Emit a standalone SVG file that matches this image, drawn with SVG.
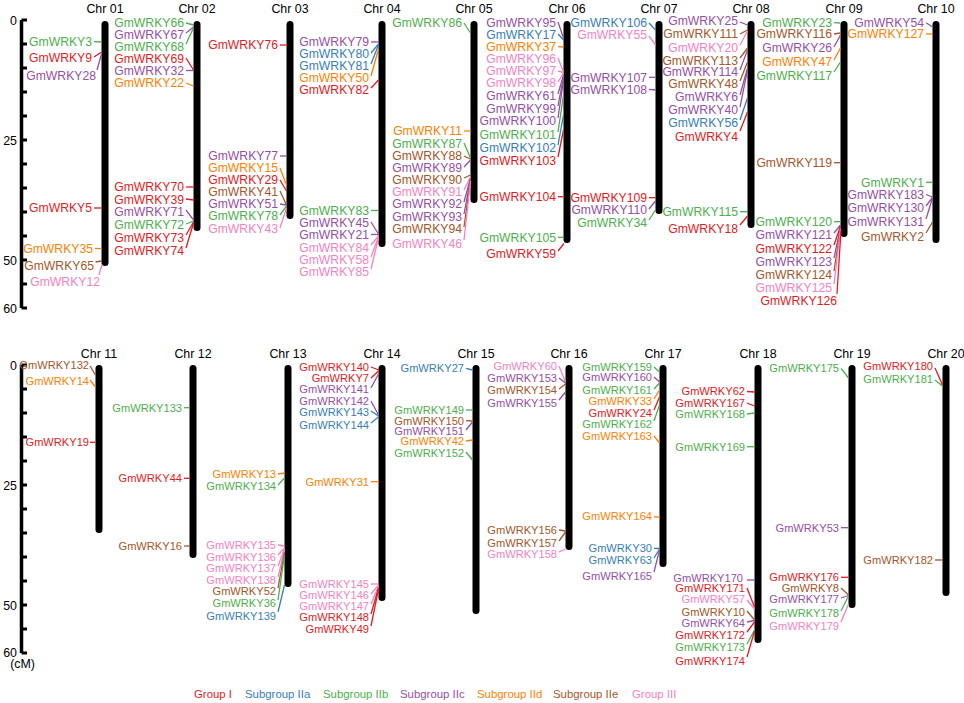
<svg xmlns="http://www.w3.org/2000/svg" width="964" height="703" viewBox="0 0 964 703">
<style>
text{font-family:"Liberation Sans",Arial,sans-serif}
.t{font-size:12.2px;text-anchor:end}
g.low .t{font-size:11.1px}
.ct{font-size:12.4px;text-anchor:middle;fill:#000}
.ax{font-size:12.4px;text-anchor:end;fill:#000}
.lg{font-size:11.4px}
.bar{stroke:#000;stroke-width:7;stroke-linecap:round}
.axl{stroke:#000;stroke-width:3.5;fill:none}
.tk{stroke:#000;stroke-width:3}
text.r{fill:#e41a1c}text.b{fill:#377eb8}text.g{fill:#4daf4a}text.p{fill:#984ea3}text.o{fill:#ff7f00}text.n{fill:#a65628}text.k{fill:#f781bf}
#connectors line{stroke-width:1.3;fill:none}
line.r{stroke:#e41a1c}line.b{stroke:#377eb8}line.g{stroke:#4daf4a}line.p{stroke:#984ea3}line.o{stroke:#ff7f00}line.n{stroke:#a65628}line.k{stroke:#f781bf}
</style>
<rect width="964" height="703" fill="#fff"/>
<g id="scale-top">
<line class="axl" x1="21.5" y1="20" x2="21.5" y2="308"/>
<path class="tk" d="M21.5 20H27M21.5 44H27M21.5 68H27M21.5 92H27M21.5 116H27M21.5 140H27M21.5 164H27M21.5 188H27M21.5 212H27M21.5 236H27M21.5 260H27M21.5 284H27M21.5 308H27"/>
<text class="ax" x="17" y="25">0</text><text class="ax" x="17" y="145">25</text><text class="ax" x="17" y="265">50</text><text class="ax" x="17" y="313">60</text>
</g>
<g id="scale-bottom">
<line class="axl" x1="21.5" y1="365" x2="21.5" y2="653"/>
<path class="tk" d="M21.5 365H27M21.5 389H27M21.5 413H27M21.5 437H27M21.5 461H27M21.5 485H27M21.5 509H27M21.5 533H27M21.5 557H27M21.5 581H27M21.5 605H27M21.5 629H27M21.5 653H27"/>
<text class="ax" x="17" y="370">0</text><text class="ax" x="17" y="490">25</text><text class="ax" x="17" y="610">50</text><text class="ax" x="17" y="657">60</text>
<text class="ax" x="35" y="668">(cM)</text>
</g>
<g id="chr01"><line class="bar" x1="105" y1="24.5" x2="105" y2="262.5"/><text class="ct" x="105" y="12.5">Chr 01</text>
<text class="t g" x="92" y="46.1">GmWRKY3</text><text class="t r" x="92" y="61.7">GmWRKY9</text><text class="t p" x="96" y="80.4">GmWRKY28</text><text class="t r" x="92" y="212.4">GmWRKY5</text><text class="t o" x="93" y="253.1">GmWRKY35</text><text class="t n" x="94" y="270.1">GmWRKY65</text><text class="t k" x="100" y="286.1">GmWRKY12</text></g>
<g id="chr02"><line class="bar" x1="197" y1="24.5" x2="197" y2="227.5"/><text class="ct" x="197" y="12.5">Chr 02</text>
<text class="t g" x="184" y="27.1">GmWRKY66</text><text class="t p" x="184" y="38.9">GmWRKY67</text><text class="t g" x="184" y="50.9">GmWRKY68</text><text class="t r" x="184" y="62.9">GmWRKY69</text><text class="t p" x="184" y="74.9">GmWRKY32</text><text class="t o" x="184" y="86.9">GmWRKY22</text>
<text class="t r" x="184" y="191.4">GmWRKY70</text><text class="t r" x="184" y="203.9">GmWRKY39</text><text class="t p" x="184" y="216.4">GmWRKY71</text><text class="t g" x="184" y="229.4">GmWRKY72</text><text class="t r" x="184" y="242.4">GmWRKY73</text><text class="t r" x="184" y="255.4">GmWRKY74</text></g>
<g id="chr03"><line class="bar" x1="290" y1="24.5" x2="290" y2="215.5"/><text class="ct" x="290" y="12.5">Chr 03</text>
<text class="t r" x="278" y="49.4">GmWRKY76</text><text class="t p" x="278" y="160.4">GmWRKY77</text><text class="t o" x="278" y="172.4">GmWRKY15</text><text class="t r" x="278" y="184.4">GmWRKY29</text><text class="t n" x="278" y="196.4">GmWRKY41</text><text class="t p" x="278" y="208.4">GmWRKY51</text><text class="t g" x="278" y="220.4">GmWRKY78</text><text class="t k" x="278" y="233.4">GmWRKY43</text></g>
<g id="chr04"><line class="bar" x1="382" y1="24.5" x2="382" y2="243.5"/><text class="ct" x="382" y="12.5">Chr 04</text>
<text class="t p" x="369" y="46.4">GmWRKY79</text><text class="t b" x="369" y="58.4">GmWRKY80</text><text class="t b" x="369" y="70.4">GmWRKY81</text><text class="t o" x="369" y="82.4">GmWRKY50</text><text class="t r" x="369" y="94.4">GmWRKY82</text>
<text class="t g" x="369" y="214.9">GmWRKY83</text><text class="t p" x="369" y="227.2">GmWRKY45</text><text class="t p" x="369" y="239.4">GmWRKY21</text><text class="t k" x="369" y="251.7">GmWRKY84</text><text class="t k" x="369" y="264">GmWRKY58</text><text class="t k" x="369" y="276.4">GmWRKY85</text></g>
<g id="chr05"><line class="bar" x1="474" y1="24.5" x2="474" y2="199.5"/><text class="ct" x="474" y="12.5">Chr 05</text>
<text class="t g" x="462" y="27.4">GmWRKY86</text><text class="t o" x="462" y="135.4">GmWRKY11</text><text class="t g" x="462" y="147.9">GmWRKY87</text><text class="t n" x="462" y="160.4">GmWRKY88</text><text class="t p" x="462" y="172.4">GmWRKY89</text><text class="t n" x="462" y="184.4">GmWRKY90</text><text class="t k" x="462" y="196.4">GmWRKY91</text><text class="t p" x="462" y="208.4">GmWRKY92</text><text class="t p" x="462" y="220.9">GmWRKY93</text><text class="t n" x="462" y="233.4">GmWRKY94</text><text class="t k" x="462" y="248.4">GmWRKY46</text></g>
<g id="chr06"><line class="bar" x1="567" y1="24.5" x2="567" y2="239.5"/><text class="ct" x="567" y="12.5">Chr 06</text>
<text class="t p" x="556" y="27.1">GmWRKY95</text><text class="t b" x="556" y="38.9">GmWRKY17</text><text class="t o" x="556" y="51.1">GmWRKY37</text><text class="t k" x="556" y="63.4">GmWRKY96</text><text class="t k" x="556" y="75.4">GmWRKY97</text><text class="t k" x="556" y="87.4">GmWRKY98</text><text class="t p" x="556" y="100.4">GmWRKY61</text><text class="t p" x="556" y="112.9">GmWRKY99</text><text class="t p" x="556" y="125.4">GmWRKY100</text><text class="t g" x="556" y="138.9">GmWRKY101</text><text class="t b" x="556" y="151.7">GmWRKY102</text><text class="t r" x="556" y="165.4">GmWRKY103</text><text class="t r" x="556" y="201.1">GmWRKY104</text><text class="t g" x="556" y="241.7">GmWRKY105</text><text class="t r" x="556" y="258.4">GmWRKY59</text></g>
<g id="chr07"><line class="bar" x1="659" y1="24.5" x2="659" y2="210.5"/><text class="ct" x="659" y="12.5">Chr 07</text>
<text class="t b" x="647" y="27.1">GmWRKY106</text><text class="t k" x="647" y="38.9">GmWRKY55</text><text class="t p" x="647" y="81.7">GmWRKY107</text><text class="t p" x="647" y="93.7">GmWRKY108</text><text class="t r" x="647" y="202.1">GmWRKY109</text><text class="t p" x="647" y="214.4">GmWRKY110</text><text class="t g" x="647" y="227.1">GmWRKY34</text></g>
<g id="chr08"><line class="bar" x1="751" y1="24.5" x2="751" y2="224.5"/><text class="ct" x="751" y="12.5">Chr 08</text>
<text class="t p" x="738" y="25.4">GmWRKY25</text><text class="t n" x="738" y="38.4">GmWRKY111</text><text class="t k" x="738" y="51.9">GmWRKY20</text><text class="t n" x="738" y="64.9">GmWRKY113</text><text class="t p" x="738" y="76.4">GmWRKY114</text><text class="t n" x="738" y="88.4">GmWRKY48</text><text class="t p" x="738" y="101.4">GmWRKY6</text><text class="t p" x="738" y="114.4">GmWRKY40</text><text class="t b" x="738" y="127.4">GmWRKY56</text><text class="t r" x="738" y="141.4">GmWRKY4</text><text class="t g" x="738" y="216.1">GmWRKY115</text><text class="t r" x="738" y="233.4">GmWRKY18</text></g>
<g id="chr09"><line class="bar" x1="844" y1="24.5" x2="844" y2="233.5"/><text class="ct" x="844" y="12.5">Chr 09</text>
<text class="t g" x="832" y="27.1">GmWRKY23</text><text class="t n" x="832" y="38.4">GmWRKY116</text><text class="t p" x="832" y="52.4">GmWRKY26</text><text class="t o" x="832" y="65.9">GmWRKY47</text><text class="t g" x="832" y="79.9">GmWRKY117</text><text class="t n" x="832" y="167.1">GmWRKY119</text><text class="t g" x="832" y="226.1">GmWRKY120</text><text class="t p" x="832" y="239.4">GmWRKY121</text><text class="t r" x="832" y="252.7">GmWRKY122</text><text class="t p" x="832" y="265.9">GmWRKY123</text><text class="t n" x="832" y="279.1">GmWRKY124</text><text class="t k" x="832" y="292.1">GmWRKY125</text><text class="t r" x="837" y="305.1">GmWRKY126</text></g>
<g id="chr10"><line class="bar" x1="936" y1="24.5" x2="936" y2="239.5"/><text class="ct" x="936" y="12.5">Chr 10</text>
<text class="t p" x="924" y="27.1">GmWRKY54</text><text class="t o" x="924" y="38.4">GmWRKY127</text><text class="t g" x="924" y="186.7">GmWRKY1</text><text class="t p" x="924" y="198.9">GmWRKY183</text><text class="t p" x="924" y="212.4">GmWRKY130</text><text class="t p" x="924" y="225.9">GmWRKY131</text><text class="t n" x="924" y="241.4">GmWRKY2</text></g>
<g id="chr11" class="low"><line class="bar" x1="99" y1="368.5" x2="99" y2="529.5"/><text class="ct" x="99" y="357.5">Chr 11</text>
<text class="t n" x="89" y="368.5">GmWRKY132</text><text class="t o" x="89" y="385">GmWRKY14</text><text class="t r" x="89" y="446.3">GmWRKY19</text></g>
<g id="chr12" class="low"><line class="bar" x1="193" y1="368.5" x2="193" y2="554.5"/><text class="ct" x="193" y="357.5">Chr 12</text>
<text class="t g" x="182" y="411.7">GmWRKY133</text><text class="t r" x="182" y="482.3">GmWRKY44</text><text class="t n" x="182" y="550">GmWRKY16</text></g>
<g id="chr13" class="low"><line class="bar" x1="288" y1="368.5" x2="288" y2="583.5"/><text class="ct" x="288" y="357.5">Chr 13</text>
<text class="t o" x="276" y="478">GmWRKY13</text><text class="t g" x="276" y="489.7">GmWRKY134</text><text class="t k" x="276" y="549">GmWRKY135</text><text class="t k" x="276" y="560.7">GmWRKY136</text><text class="t k" x="276" y="572.3">GmWRKY137</text><text class="t k" x="276" y="583.5">GmWRKY138</text><text class="t n" x="276" y="595">GmWRKY52</text><text class="t g" x="276" y="607.3">GmWRKY36</text><text class="t b" x="276" y="620">GmWRKY139</text></g>
<g id="chr14" class="low"><line class="bar" x1="382" y1="368.5" x2="382" y2="597.5"/><text class="ct" x="382" y="357.5">Chr 14</text>
<text class="t r" x="369" y="371">GmWRKY140</text><text class="t r" x="369" y="382.3">GmWRKY7</text><text class="t p" x="369" y="393.3">GmWRKY141</text><text class="t p" x="369" y="404.7">GmWRKY142</text><text class="t b" x="369" y="415.5">GmWRKY143</text><text class="t b" x="369" y="428.5">GmWRKY144</text><text class="t o" x="369" y="485.7">GmWRKY31</text><text class="t k" x="369" y="588">GmWRKY145</text><text class="t k" x="369" y="599">GmWRKY146</text><text class="t k" x="369" y="610">GmWRKY147</text><text class="t r" x="369" y="621.3">GmWRKY148</text><text class="t r" x="369" y="633.3">GmWRKY49</text></g>
<g id="chr15" class="low"><line class="bar" x1="476" y1="368.5" x2="476" y2="610.5"/><text class="ct" x="476" y="357.5">Chr 15</text>
<text class="t b" x="464" y="372.3">GmWRKY27</text><text class="t g" x="464" y="414">GmWRKY149</text><text class="t n" x="464" y="424.7">GmWRKY150</text><text class="t p" x="464" y="435">GmWRKY151</text><text class="t o" x="464" y="445">GmWRKY42</text><text class="t g" x="464" y="457.3">GmWRKY152</text></g>
<g id="chr16" class="low"><line class="bar" x1="569" y1="368.5" x2="569" y2="546.5"/><text class="ct" x="569" y="357.5">Chr 16</text>
<text class="t k" x="557" y="369.5">GmWRKY60</text><text class="t p" x="557" y="382">GmWRKY153</text><text class="t n" x="557" y="393.5">GmWRKY154</text><text class="t p" x="557" y="406.5">GmWRKY155</text><text class="t n" x="557" y="534">GmWRKY156</text><text class="t n" x="557" y="546.5">GmWRKY157</text><text class="t k" x="557" y="558.3">GmWRKY158</text></g>
<g id="chr17" class="low"><line class="bar" x1="663" y1="368.5" x2="663" y2="563.5"/><text class="ct" x="663" y="357.5">Chr 17</text>
<text class="t g" x="652" y="370.5">GmWRKY159</text><text class="t p" x="652" y="381">GmWRKY160</text><text class="t g" x="652" y="393.5">GmWRKY161</text><text class="t o" x="652" y="404.7">GmWRKY33</text><text class="t r" x="652" y="416.7">GmWRKY24</text><text class="t g" x="652" y="427.5">GmWRKY162</text><text class="t o" x="652" y="440">GmWRKY163</text><text class="t o" x="652" y="520">GmWRKY164</text><text class="t b" x="652" y="552.3">GmWRKY30</text><text class="t b" x="652" y="564">GmWRKY63</text><text class="t p" x="652" y="579.7">GmWRKY165</text></g>
<g id="chr18" class="low"><line class="bar" x1="758" y1="368.5" x2="758" y2="639.5"/><text class="ct" x="758" y="357.5">Chr 18</text>
<text class="t r" x="745" y="395">GmWRKY62</text><text class="t r" x="745" y="407.3">GmWRKY167</text><text class="t g" x="745" y="418.3">GmWRKY168</text><text class="t g" x="745" y="450.7">GmWRKY169</text><text class="t p" x="743" y="581.7">GmWRKY170</text><text class="t r" x="745" y="592.3">GmWRKY171</text><text class="t k" x="745" y="603.3">GmWRKY57</text><text class="t n" x="745" y="615.7">GmWRKY10</text><text class="t p" x="745" y="626.7">GmWRKY64</text><text class="t r" x="745" y="639">GmWRKY172</text><text class="t g" x="745" y="650.7">GmWRKY173</text><text class="t r" x="745" y="664.7">GmWRKY174</text></g>
<g id="chr19" class="low"><line class="bar" x1="852" y1="368.5" x2="852" y2="604.5"/><text class="ct" x="852" y="357.5">Chr 19</text>
<text class="t g" x="839" y="372.3">GmWRKY175</text><text class="t p" x="839" y="531.7">GmWRKY53</text><text class="t r" x="839" y="581.3">GmWRKY176</text><text class="t n" x="839" y="591.7">GmWRKY8</text><text class="t p" x="839" y="603.3">GmWRKY177</text><text class="t g" x="839" y="616.7">GmWRKY178</text><text class="t k" x="839" y="630">GmWRKY179</text></g>
<g id="chr20" class="low"><line class="bar" x1="946" y1="368.5" x2="946" y2="592.5"/><text class="ct" x="946" y="357.5">Chr 20</text>
<text class="t r" x="933" y="370">GmWRKY180</text><text class="t g" x="933" y="383">GmWRKY181</text><text class="t n" x="933" y="564">GmWRKY182</text></g>
<g id="connectors">
<line class="g" x1="94" y1="41.7" x2="101.5" y2="42"/><line class="r" x1="94" y1="57" x2="101.5" y2="52"/><line class="p" x1="97" y1="70" x2="101.5" y2="54"/><line class="r" x1="94" y1="208" x2="101.5" y2="208"/><line class="o" x1="95" y1="248.5" x2="101.5" y2="248.5"/><line class="n" x1="95.5" y1="262" x2="101.5" y2="261"/><line class="k" x1="99" y1="275" x2="102" y2="264.5"/>
<line class="g" x1="186" y1="23" x2="193.5" y2="25"/><line class="p" x1="186" y1="33" x2="193.5" y2="27"/><line class="g" x1="186" y1="44" x2="193.5" y2="28"/><line class="r" x1="186" y1="58" x2="193.5" y2="70"/><line class="p" x1="186" y1="70.5" x2="193.5" y2="70.5"/><line class="o" x1="186" y1="83" x2="193.5" y2="86"/>
<line class="r" x1="186" y1="187" x2="193.5" y2="187"/><line class="r" x1="186" y1="199" x2="193.5" y2="200"/><line class="p" x1="186" y1="210" x2="193.5" y2="220"/><line class="g" x1="186" y1="224" x2="193.5" y2="221"/><line class="r" x1="186" y1="235" x2="193.5" y2="222"/><line class="r" x1="186" y1="248" x2="193.5" y2="223"/>
<line class="r" x1="280" y1="45" x2="286.5" y2="45"/><line class="p" x1="280" y1="156" x2="286.5" y2="156"/><line class="o" x1="280" y1="168" x2="286.5" y2="185"/><line class="r" x1="280" y1="180" x2="286.5" y2="191"/><line class="n" x1="280" y1="191" x2="286.5" y2="205"/><line class="p" x1="280" y1="204" x2="286.5" y2="205"/><line class="g" x1="280" y1="215" x2="286.5" y2="206"/><line class="k" x1="280" y1="228" x2="286.5" y2="208"/>
<line class="p" x1="371" y1="42" x2="378.5" y2="42"/><line class="b" x1="371" y1="53" x2="378.5" y2="44"/><line class="b" x1="371" y1="64" x2="378.5" y2="45"/><line class="o" x1="371" y1="76" x2="378.5" y2="49"/><line class="r" x1="371" y1="88" x2="378.5" y2="80"/>
<line class="g" x1="371" y1="210.5" x2="378.5" y2="210.5"/><line class="p" x1="371" y1="222" x2="378.5" y2="234"/><line class="p" x1="371" y1="234.5" x2="378.5" y2="234.5"/><line class="k" x1="371" y1="245" x2="378.5" y2="236"/><line class="k" x1="371" y1="257" x2="378.5" y2="237"/><line class="k" x1="371" y1="269" x2="378.5" y2="238"/>
<line class="g" x1="464" y1="23" x2="470.5" y2="33"/><line class="o" x1="464" y1="131" x2="470.5" y2="131"/><line class="g" x1="464" y1="143" x2="470.5" y2="158"/><line class="n" x1="464" y1="156" x2="470.5" y2="159"/><line class="p" x1="464" y1="167" x2="470.5" y2="160"/><line class="n" x1="464" y1="178" x2="470.5" y2="175"/><line class="k" x1="464" y1="190" x2="470.5" y2="177"/><line class="p" x1="464" y1="202" x2="470.5" y2="178"/><line class="p" x1="464" y1="214" x2="470.5" y2="179"/><line class="n" x1="464" y1="227" x2="470.5" y2="180"/><line class="k" x1="464" y1="240" x2="470.5" y2="181"/>
<line class="p" x1="558" y1="22" x2="563.5" y2="38"/><line class="b" x1="558" y1="34" x2="563.5" y2="40"/><line class="o" x1="558" y1="46.7" x2="563.5" y2="47"/><line class="k" x1="558" y1="58" x2="563.5" y2="72"/><line class="k" x1="558" y1="71" x2="563.5" y2="72.5"/><line class="k" x1="558" y1="82" x2="563.5" y2="73"/><line class="p" x1="558" y1="94" x2="563.5" y2="75"/><line class="p" x1="558" y1="106" x2="563.5" y2="77"/><line class="p" x1="558" y1="118" x2="563.5" y2="80"/><line class="g" x1="558" y1="132" x2="563.5" y2="95"/><line class="b" x1="558" y1="145" x2="563.5" y2="115"/><line class="r" x1="558" y1="157" x2="563.5" y2="130"/><line class="r" x1="558" y1="196.7" x2="563.5" y2="196.7"/><line class="g" x1="558" y1="237.3" x2="563.5" y2="237.3"/><line class="r" x1="558" y1="251" x2="564" y2="243.5"/>
<line class="b" x1="649" y1="23" x2="655.5" y2="30"/><line class="k" x1="649" y1="36" x2="655.5" y2="45"/><line class="p" x1="649" y1="77.3" x2="655.5" y2="77.3"/><line class="p" x1="649" y1="89.3" x2="655.5" y2="90"/><line class="r" x1="649" y1="197.7" x2="655.5" y2="197.7"/><line class="p" x1="649" y1="209" x2="655.5" y2="201"/><line class="g" x1="649" y1="220" x2="655.5" y2="210"/>
<line class="p" x1="740" y1="22" x2="747.5" y2="25"/><line class="n" x1="740" y1="34" x2="747.5" y2="30"/><line class="k" x1="740" y1="45" x2="747.5" y2="31"/><line class="n" x1="740" y1="58" x2="747.5" y2="48"/><line class="p" x1="740" y1="70" x2="747.5" y2="50"/><line class="n" x1="740" y1="81" x2="747.5" y2="62"/><line class="p" x1="740" y1="95" x2="747.5" y2="68"/><line class="p" x1="740" y1="107" x2="747.5" y2="70"/><line class="b" x1="740" y1="120" x2="747.5" y2="98"/><line class="r" x1="740" y1="131" x2="747.5" y2="112"/><line class="g" x1="740" y1="211.7" x2="747.5" y2="211.7"/><line class="r" x1="740" y1="225" x2="747.5" y2="216"/>
<line class="g" x1="834" y1="22.7" x2="840.5" y2="23"/><line class="n" x1="834" y1="34" x2="840.5" y2="33"/><line class="p" x1="834" y1="47" x2="840.5" y2="35"/><line class="o" x1="834" y1="60" x2="840.5" y2="48"/><line class="g" x1="834" y1="72" x2="840.5" y2="62"/><line class="n" x1="834" y1="162.7" x2="840.5" y2="162.7"/><line class="g" x1="834" y1="221.7" x2="840.5" y2="221.7"/><line class="p" x1="834" y1="233" x2="840.5" y2="225"/><line class="r" x1="834" y1="245" x2="840.5" y2="226"/><line class="p" x1="834" y1="258" x2="840.5" y2="227"/><line class="n" x1="834" y1="271" x2="840.5" y2="228"/><line class="k" x1="834" y1="284" x2="840.5" y2="229"/><line class="r" x1="837" y1="294" x2="841" y2="230"/>
<line class="p" x1="926" y1="22.7" x2="932.5" y2="27"/><line class="o" x1="926" y1="34" x2="932.5" y2="34"/><line class="g" x1="926" y1="182.3" x2="932.5" y2="182.3"/><line class="p" x1="926" y1="194.5" x2="932.5" y2="197"/><line class="p" x1="926" y1="206" x2="932.5" y2="197.5"/><line class="p" x1="926" y1="219" x2="932.5" y2="198"/><line class="n" x1="926" y1="233" x2="932.5" y2="222"/>
<line class="n" x1="90" y1="366" x2="95.5" y2="375"/><line class="o" x1="90" y1="380" x2="95.5" y2="387"/><line class="r" x1="90" y1="442.3" x2="95.5" y2="442.3"/>
<line class="g" x1="184" y1="407.7" x2="189.5" y2="407.7"/><line class="r" x1="184" y1="478.3" x2="189.5" y2="478.3"/><line class="n" x1="184" y1="546" x2="189.5" y2="546"/>
<line class="o" x1="278" y1="474" x2="284.5" y2="473"/><line class="g" x1="278" y1="485" x2="284.5" y2="478"/><line class="k" x1="278" y1="545" x2="284.5" y2="546"/><line class="k" x1="278" y1="555" x2="284.5" y2="548"/><line class="k" x1="278" y1="566" x2="284.5" y2="549"/><line class="k" x1="278" y1="577" x2="284.5" y2="550"/><line class="n" x1="278" y1="588" x2="284.5" y2="552"/><line class="g" x1="278" y1="600" x2="284.5" y2="555"/><line class="b" x1="278" y1="612" x2="284.5" y2="585"/>
<line class="r" x1="371" y1="367" x2="378.5" y2="370"/><line class="r" x1="371" y1="378" x2="378.5" y2="371"/><line class="p" x1="371" y1="388" x2="378.5" y2="374"/><line class="p" x1="371" y1="401" x2="378.5" y2="415"/><line class="b" x1="371" y1="411" x2="378.5" y2="416"/><line class="b" x1="371" y1="423" x2="378.5" y2="417"/><line class="o" x1="371" y1="481.7" x2="378.5" y2="481.7"/><line class="k" x1="371" y1="584" x2="378.5" y2="584"/><line class="k" x1="371" y1="594" x2="378.5" y2="585"/><line class="k" x1="371" y1="604" x2="378.5" y2="586"/><line class="r" x1="371" y1="614" x2="378.5" y2="588"/><line class="r" x1="371" y1="626" x2="378.5" y2="589"/>
<line class="b" x1="466" y1="368.3" x2="472.5" y2="370"/><line class="g" x1="466" y1="410" x2="472.5" y2="410"/><line class="n" x1="466" y1="420.7" x2="472.5" y2="421"/><line class="p" x1="466" y1="430" x2="472.5" y2="422"/><line class="o" x1="466" y1="441" x2="472.5" y2="440"/><line class="g" x1="466" y1="452" x2="472.5" y2="460"/>
<line class="k" x1="559" y1="366" x2="565.5" y2="382"/><line class="p" x1="559" y1="378" x2="565.5" y2="383"/><line class="n" x1="559" y1="389" x2="565.5" y2="384"/><line class="p" x1="559" y1="400" x2="565.5" y2="392"/><line class="n" x1="559" y1="530" x2="565.5" y2="531"/><line class="n" x1="559" y1="541" x2="565.5" y2="532"/><line class="k" x1="559" y1="552" x2="565.5" y2="549"/>
<line class="g" x1="654" y1="367" x2="659.5" y2="372"/><line class="p" x1="654" y1="377" x2="659.5" y2="382"/><line class="g" x1="654" y1="389" x2="659.5" y2="383"/><line class="o" x1="654" y1="399" x2="659.5" y2="390"/><line class="r" x1="654" y1="410" x2="659.5" y2="397"/><line class="g" x1="654" y1="421" x2="659.5" y2="405"/><line class="o" x1="654" y1="436" x2="659.5" y2="443"/><line class="o" x1="654" y1="517" x2="659.5" y2="517"/><line class="b" x1="654" y1="548.3" x2="659.5" y2="548.5"/><line class="b" x1="654" y1="558" x2="659.5" y2="549"/><line class="p" x1="654" y1="572" x2="659.5" y2="550"/>
<line class="r" x1="747" y1="391.5" x2="754.5" y2="392"/><line class="r" x1="747" y1="403" x2="754.5" y2="406"/><line class="g" x1="747" y1="414" x2="754.5" y2="413"/><line class="g" x1="747" y1="446.7" x2="754.5" y2="446.7"/><line class="p" x1="747" y1="580" x2="754.5" y2="580"/><line class="r" x1="747" y1="588" x2="754.5" y2="607"/><line class="k" x1="747" y1="600" x2="754.5" y2="609"/><line class="n" x1="747" y1="611" x2="754.5" y2="620"/><line class="p" x1="747" y1="622" x2="754.5" y2="620.5"/><line class="r" x1="747" y1="632" x2="754.5" y2="622"/><line class="g" x1="747" y1="644" x2="754.5" y2="630"/><line class="r" x1="747" y1="657" x2="754.5" y2="631"/>
<line class="g" x1="841" y1="368.3" x2="848.5" y2="378"/><line class="p" x1="841" y1="527.7" x2="848.5" y2="527.7"/><line class="r" x1="841" y1="577.3" x2="848.5" y2="577.3"/><line class="n" x1="841" y1="588" x2="848.5" y2="595"/><line class="p" x1="841" y1="598" x2="848.5" y2="595.5"/><line class="g" x1="841" y1="611" x2="848.5" y2="596"/><line class="k" x1="841" y1="622" x2="848.5" y2="604"/>
<line class="r" x1="935" y1="368" x2="942.5" y2="385"/><line class="g" x1="935" y1="380" x2="942.5" y2="386"/><line class="n" x1="935" y1="560" x2="942.5" y2="560"/>
</g>
<g id="legend">
<text class="lg r" x="194" y="698">Group I</text>
<text class="lg b" x="245" y="698">Subgroup IIa</text>
<text class="lg g" x="323" y="698">Subgroup IIb</text>
<text class="lg p" x="400" y="698">Subgroup IIc</text>
<text class="lg o" x="477" y="698">Subgroup IId</text>
<text class="lg n" x="553" y="698">Subgroup IIe</text>
<text class="lg k" x="632" y="698">Group III</text>
</g>
</svg>
